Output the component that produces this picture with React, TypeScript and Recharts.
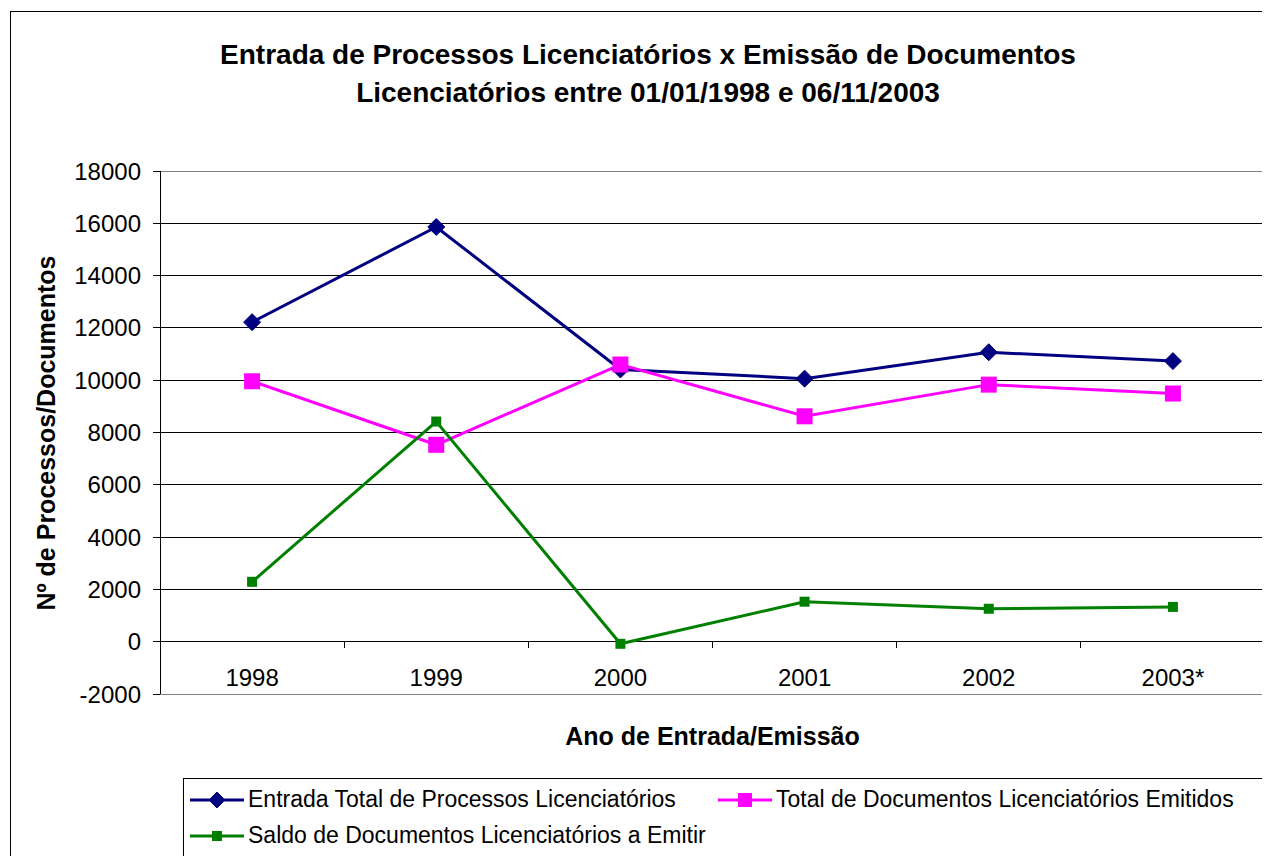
import React from 'react'
import { LineChart, Line, XAxis, YAxis, CartesianGrid, ReferenceLine } from 'recharts'

const years = ['1998', '1999', '2000', '2001', '2002', '2003*']
const entrada = [12220, 15860, 10410, 10060, 11070, 10730]
const emitidos = [9960, 7530, 10600, 8620, 9830, 9490]
const saldo = [2290, 8420, -80, 1530, 1260, 1330]
const yTicks = [-2000, 0, 2000, 4000, 6000, 8000, 10000, 12000, 14000, 16000, 18000]

const seriesNames = [
  'Entrada Total de Processos Licenciatórios',
  'Total de Documentos Licenciatórios Emitidos',
  'Saldo de Documentos Licenciatórios a Emitir',
]

const FONT = "Arial, 'Liberation Sans', sans-serif"
const W = 1262
const H = 848
const X_AXIS_H = 1
const margin = { top: 163, right: 5, bottom: 162 - X_AXIS_H, left: 72 }
const Y_AXIS_W = 80
const PLOT_H = H - margin.top - margin.bottom - X_AXIS_H
const PLOT_W = W - margin.left - Y_AXIS_W - margin.right
const Y_MIN = -2000
const Y_MAX = 18000
const ZERO_FROM_BOTTOM = (PLOT_H * (0 - Y_MIN)) / (Y_MAX - Y_MIN)

const NAVY = '#000080'
const MAGENTA = '#FF00FF'
const GREEN = '#008000'

const data = years.map((year, i) => ({
  year,
  entrada: entrada[i],
  emitidos: emitidos[i],
  saldo: saldo[i],
}))

const Diamond = ({ cx, cy, r = 8.5, fill }: any) => (
  <polygon
    points={`${cx},${cy - r} ${cx + r},${cy} ${cx},${cy + r} ${cx - r},${cy}`}
    fill={fill}
    stroke={fill}
    strokeWidth={1}
  />
)

const Square = ({ cx, cy, r, fill }: any) => (
  <rect x={cx - r} y={cy - r} width={r * 2} height={r * 2} fill={fill} />
)

// x labels sit just under the zero line, like the Excel category axis
const XTick = (props: any) => {
  const { x, payload } = props
  const half = payload?.offset || PLOT_W / years.length / 2
  const bottom = margin.top + PLOT_H
  const zeroY = bottom - ZERO_FROM_BOTTOM
  return (
    <g>
      <text x={x} y={bottom - 8} textAnchor="middle" fontSize={24} fill="#000" fontFamily={FONT}>
        {payload.value}
      </text>
      <line
        x1={x + half}
        x2={x + half}
        y1={zeroY}
        y2={zeroY + 6}
        stroke="#000"
        strokeWidth={1}
        shapeRendering="crispEdges"
      />
    </g>
  )
}

const gridLine = (p: any) => {
  const edge = p.index === 0 || p.index === yTicks.length - 1
  return (
    <line
      key={p.key ?? p.index}
      x1={p.x1}
      x2={p.x2}
      y1={p.y1}
      y2={p.y2}
      stroke={edge ? '#808080' : '#000'}
      strokeWidth={1}
      shapeRendering="crispEdges"
    />
  )
}

const LegendIcon = ({ color, kind }: { color: string; kind: 'diamond' | 'big' | 'small' }) => (
  <svg width={54} height={20} style={{ display: 'block' }}>
    <line x1={0} x2={54} y1={10} y2={10} stroke={color} strokeWidth={3} />
    {kind === 'diamond' && <Diamond cx={27} cy={10} r={8} fill={color} />}
    {kind === 'big' && <Square cx={27} cy={10} r={7} fill={color} />}
    {kind === 'small' && <Square cx={27} cy={10} r={5} fill={color} />}
  </svg>
)

export default function App() {
  return (
    <div style={{ position: 'relative', width: W, height: H, overflow: 'hidden', fontFamily: FONT, background: '#fff' }}>
      {/* outer frame */}
      <div
        style={{
          position: 'absolute',
          left: 2,
          top: 3,
          width: 1258,
          height: 900,
          border: '1px solid #000',
          boxSizing: 'border-box',
        }}
      />
      <div
        style={{
          position: 'absolute',
          left: 0,
          width: 1280,
          top: 28,
          textAlign: 'center',
          fontWeight: 'bold',
          fontSize: 28,
          lineHeight: '38px',
          color: '#000',
        }}
      >
        Entrada de Processos Licenciatórios x Emissão de Documentos
        <br />
        Licenciatórios entre 01/01/1998 e 06/11/2003
      </div>

      <div style={{ position: 'absolute', left: 0, top: 0 }}>
        <LineChart width={W} height={H} data={data} margin={margin}>
          <CartesianGrid vertical={false} horizontal={gridLine} />
          <XAxis
            dataKey="year"
            scale="band"
            height={X_AXIS_H}
            axisLine={false}
            tickLine={false}
            tickSize={0}
            tickMargin={0}
            interval={0}
            tick={<XTick />}
          />
          <YAxis
            width={Y_AXIS_W}
            domain={[Y_MIN, Y_MAX]}
            ticks={yTicks}
            interval={0}
            allowDataOverflow
            axisLine={{ stroke: '#000', shapeRendering: 'crispEdges' }}
            tickLine={{ stroke: '#000', shapeRendering: 'crispEdges' }}
            tickSize={7}
            tickMargin={12}
            tick={{ fontSize: 24, fill: '#000', fontFamily: FONT }}
          />
          <ReferenceLine y={0} stroke="#000" strokeWidth={1} shapeRendering="crispEdges" />
          <Line
            dataKey="entrada"
            name={seriesNames[0]}
            stroke={NAVY}
            strokeWidth={3}
            isAnimationActive={false}
            dot={(p: any) => <Diamond key={p.index} cx={p.cx} cy={p.cy} r={8.5} fill={NAVY} />}
          />
          <Line
            dataKey="emitidos"
            name={seriesNames[1]}
            stroke={MAGENTA}
            strokeWidth={3}
            isAnimationActive={false}
            dot={(p: any) => <Square key={p.index} cx={p.cx} cy={p.cy} r={8} fill={MAGENTA} />}
          />
          <Line
            dataKey="saldo"
            name={seriesNames[2]}
            stroke={GREEN}
            strokeWidth={3}
            isAnimationActive={false}
            dot={(p: any) => <Square key={p.index} cx={p.cx} cy={p.cy} r={5} fill={GREEN} />}
          />
        </LineChart>
      </div>

      {/* right plot border */}
      <div
        style={{
          position: 'absolute',
          left: margin.left + Y_AXIS_W,
          top: margin.top,
          width: PLOT_W + 1,
          height: PLOT_H,
          borderRight: '1px solid #808080',
          boxSizing: 'border-box',
          pointerEvents: 'none',
        }}
      />

      <div
        style={{
          position: 'absolute',
          left: 38,
          top: 425,
          transform: 'translate(-50%, -50%) rotate(-90deg)',
          whiteSpace: 'nowrap',
          fontWeight: 'bold',
          fontSize: 25,
          color: '#000',
        }}
      >
        Nº de Processos/Documentos
      </div>

      <div
        style={{
          position: 'absolute',
          left: margin.left + Y_AXIS_W,
          width: PLOT_W,
          top: 714,
          textAlign: 'center',
          fontWeight: 'bold',
          fontSize: 25,
          color: '#000',
        }}
      >
        Ano de Entrada/Emissão
      </div>

      {/* legend */}
      <div
        style={{
          position: 'absolute',
          left: 175,
          top: 770,
          width: 1083,
          height: 120,
          border: '1px solid #000',
          boxSizing: 'border-box',
          fontSize: 23,
          color: '#000',
        }}
      >
        <div style={{ position: 'absolute', left: 6, top: 7, display: 'flex', alignItems: 'center' }}>
          <LegendIcon color={NAVY} kind="diamond" />
          <span style={{ marginLeft: 4 }}>{seriesNames[0]}</span>
        </div>
        <div style={{ position: 'absolute', left: 534, top: 7, display: 'flex', alignItems: 'center' }}>
          <LegendIcon color={MAGENTA} kind="big" />
          <span style={{ marginLeft: 4 }}>{seriesNames[1]}</span>
        </div>
        <div style={{ position: 'absolute', left: 6, top: 43, display: 'flex', alignItems: 'center' }}>
          <LegendIcon color={GREEN} kind="small" />
          <span style={{ marginLeft: 4 }}>{seriesNames[2]}</span>
        </div>
      </div>
    </div>
  )
}
